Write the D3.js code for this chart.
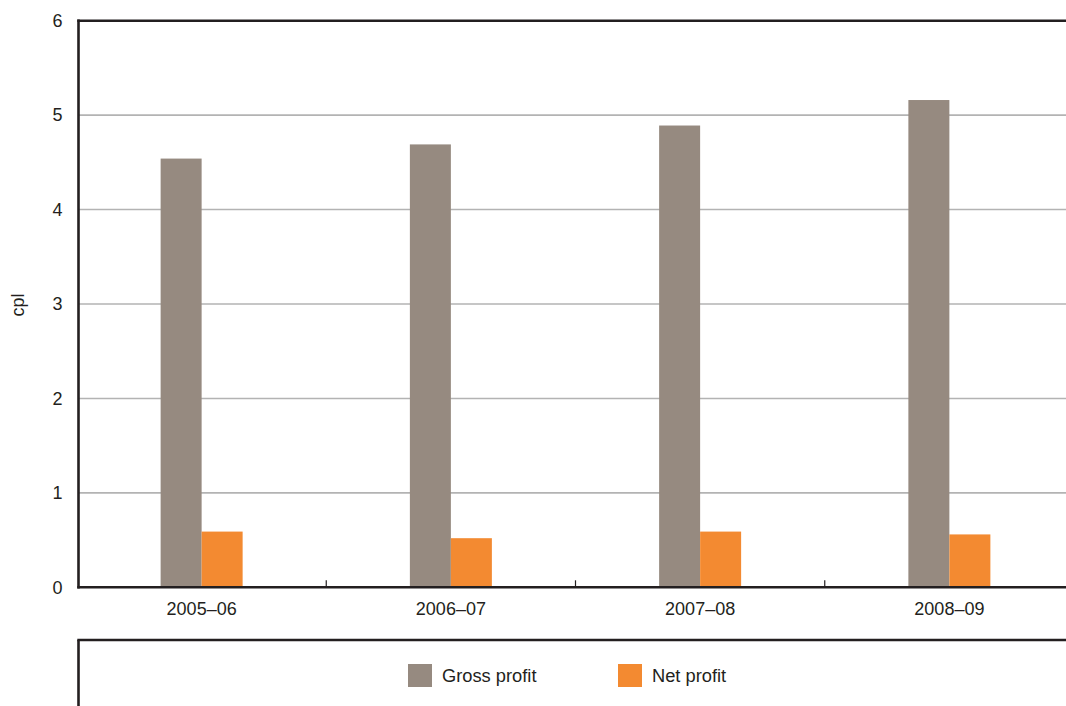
<!DOCTYPE html>
<html>
<head>
<meta charset="utf-8">
<script src="https://cdn.jsdelivr.net/npm/d3@7"></script>
<style>
html,body{margin:0;padding:0;background:#fff;}
svg{display:block;}
text{font-family:"Liberation Sans",Arial,sans-serif;fill:#231f20;}
</style>
</head>
<body>
<svg id="chart" width="1066" height="706"></svg>
<script>
const categories = ["2005–06", "2006–07", "2007–08", "2008–09"];
const seriesNames = ["Gross profit", "Net profit"];
const grossProfit = [4.54, 4.69, 4.89, 5.16];
const netProfit = [0.59, 0.52, 0.59, 0.56];
const yTicks = [0, 1, 2, 3, 4, 5, 6];
const colors = ["#968a80", "#f38a31"];

(function () {
const svg = d3.select("#chart");
const mLeft = 78.5, mRight = 1074, mTop = 20.7, mBottom = 587.3;

const x0 = d3.scaleBand().domain(categories).range([77, mRight]).paddingInner(0).paddingOuter(0);
const y = d3.scaleLinear().domain([0, 6]).range([mBottom, mTop]);
const barW = 41;
const x1 = d3.scaleBand().domain(seriesNames).range([0, barW * 2]);

// gridlines
svg.append("g").selectAll("line").data(yTicks.filter(d => d > 0 && d < 6)).join("line")
  .attr("x1", mLeft).attr("x2", 1066).attr("y1", d => y(d)).attr("y2", d => y(d))
  .attr("stroke", "#b3b3b3").attr("stroke-width", 1.6);

// bars
const data = categories.map((c, i) => ({cat: c, vals: [grossProfit[i], netProfit[i]]}));
const groups = svg.append("g").selectAll("g").data(data).join("g")
  .attr("transform", d => `translate(${x0(d.cat) + x0.bandwidth() / 2 - barW},0)`);
groups.selectAll("rect").data(d => d.vals.map((v, j) => ({name: seriesNames[j], v, j}))).join("rect")
  .attr("x", d => x1(d.name)).attr("width", x1.bandwidth())
  .attr("y", d => y(d.v)).attr("height", d => y(0) - y(d.v))
  .attr("fill", d => colors[d.j]);

// top frame line (6)
svg.append("line").attr("x1", mLeft - 1.2).attr("x2", 1066).attr("y1", y(6)).attr("y2", y(6))
  .attr("stroke", "#231f20").attr("stroke-width", 2.6);

// x axis
const xAxis = d3.axisBottom(x0).tickSize(0).tickPadding(15);
const gx = svg.append("g").attr("transform", `translate(0,${mBottom})`).call(xAxis);
gx.select(".domain").remove();
gx.selectAll("text").attr("font-size", 18).attr("font-family", "Liberation Sans, Arial, sans-serif").attr("fill", "#231f20");
svg.append("line").attr("x1", mLeft - 1.2).attr("x2", 1066).attr("y1", mBottom).attr("y2", mBottom)
  .attr("stroke", "#231f20").attr("stroke-width", 2.6);
// boundary ticks
svg.append("g").selectAll("line").data(categories.slice(1)).join("line")
  .attr("x1", d => x0(d)).attr("x2", d => x0(d))
  .attr("y1", mBottom).attr("y2", mBottom - 7)
  .attr("stroke", "#231f20").attr("stroke-width", 1.2);

// y axis
const yAxis = d3.axisLeft(y).tickValues(yTicks).tickSize(0).tickPadding(16).tickFormat(d3.format("d"));
const gy = svg.append("g").attr("transform", `translate(${mLeft},0)`).call(yAxis);
gy.select(".domain").remove();
gy.selectAll("text").attr("font-size", 18).attr("font-family", "Liberation Sans, Arial, sans-serif").attr("fill", "#231f20");
svg.append("line").attr("x1", mLeft).attr("x2", mLeft).attr("y1", mTop - 1.2).attr("y2", mBottom + 1.2)
  .attr("stroke", "#231f20").attr("stroke-width", 2.6);

// y title
svg.append("text").attr("transform", "translate(24,305) rotate(-90)")
  .attr("text-anchor", "middle").attr("font-size", 18).text("cpl");

// legend box
svg.append("line").attr("x1", mLeft - 1.2).attr("x2", 1066).attr("y1", 640).attr("y2", 640)
  .attr("stroke", "#231f20").attr("stroke-width", 2.6);
svg.append("line").attr("x1", mLeft).attr("x2", mLeft).attr("y1", 640).attr("y2", 706)
  .attr("stroke", "#231f20").attr("stroke-width", 2.6);

const legendX = [408, 618];
const lg = svg.append("g").selectAll("g").data(seriesNames).join("g")
  .attr("transform", (d, i) => `translate(${legendX[i]},664)`);
lg.append("rect").attr("width", 24).attr("height", 23).attr("fill", (d, i) => colors[i]);
lg.append("text").attr("x", 34).attr("y", 17.5).attr("font-size", 18.3).text(d => d);
})();
</script>
</body>
</html>
